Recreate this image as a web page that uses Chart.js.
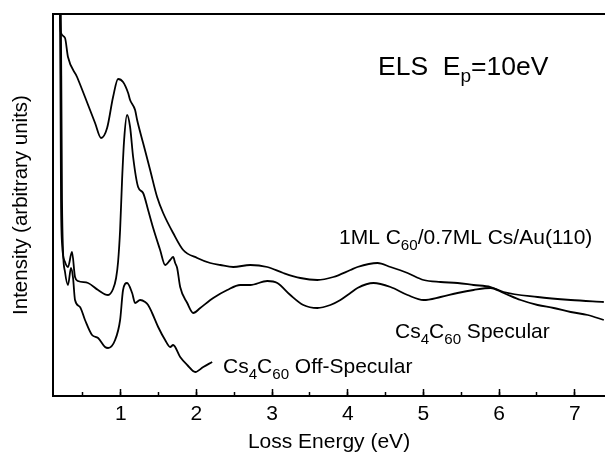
<!DOCTYPE html>
<html><head><meta charset="utf-8">
<script src="https://cdn.jsdelivr.net/npm/chart.js@4"></script>
<style>html,body{margin:0;padding:0;background:#fff}canvas{display:block}</style>
</head><body>
<canvas id="c" width="605" height="455"></canvas>
<script>
// ---- data (loss energy in eV, intensity in arbitrary units) ----
const energy1ML = [0.104,0.185,0.200,0.210,0.263,0.302,0.422,0.527,0.660,0.739,0.819,0.898,0.964,1.030,1.097,1.123,1.189,1.216,1.295,1.388,1.480,1.560,1.692,1.825,2.010,2.182,2.315,2.486,2.711,2.936,3.148,3.373,3.598,3.810,4.035,4.128,4.393,4.565,4.790,5.002,5.227,5.451,5.663,5.888,6.060,6.510,6.947,7.384];
const intensity1ML = [460,460,372,363,358,339,319,299,273,258,268,299,317,314,303,296,286,276,253,226,199,183,163,146,138,133,131,129,131,129,123,118,116,119,126,129,133,129,123,116,114,113,111,109,104,99,96,94];

const energySpec = [0.104,0.190,0.210,0.223,0.263,0.302,0.355,0.395,0.435,0.567,0.700,0.832,0.898,0.938,0.964,0.991,1.017,1.044,1.083,1.123,1.163,1.229,1.295,1.361,1.428,1.520,1.586,1.653,1.692,1.719,1.745,1.785,1.878,1.958,2.050,2.222,2.407,2.579,2.711,2.936,3.069,3.241,3.413,3.598,3.770,3.903,4.035,4.128,4.340,4.565,4.790,5.002,5.227,5.451,5.663,5.888,6.060,6.285,6.510,6.722,6.947,7.172,7.384];
const intensitySpec = [460,460,196,153,134,129,144,119,115,113,106,101,107,118,134,166,216,256,281,269,239,209,203,186,168,146,131,136,139,133,128,109,93,83,88,98,106,111,111,115,113,101,91,88,91,96,103,108,113,109,101,96,99,103,106,108,103,96,91,88,84,81,76];

const energyOff = [0.104,0.200,0.223,0.236,0.263,0.302,0.342,0.369,0.395,0.461,0.527,0.620,0.700,0.792,0.832,0.925,0.991,1.030,1.083,1.150,1.189,1.255,1.322,1.361,1.414,1.494,1.586,1.653,1.692,1.785,1.878,1.984,2.090,2.208];
const intensityOff = [460,460,196,146,124,111,128,118,96,89,76,61,58,49,48,56,76,106,113,103,93,96,94,91,83,69,56,49,51,39,31,24,29,34];

const xMin = 0.104, xMax = 7.4;
const yMin = 0, yMax = 382;

const FONT = '"Liberation Sans", Arial, Helvetica, sans-serif';

function pts(xs, ys){ return xs.map((x,i)=>({x:x, y:ys[i]})); }

const labelPlugin = {
  id: 'curveLabels',
  afterDraw(chart){
    const ctx = chart.ctx;
    ctx.save();
    ctx.fillStyle = '#000';
    ctx.textBaseline = 'alphabetic';
    function rich(segs, x, y, size){
      let cx = x;
      for (const s of segs){
        const fs = s.sub ? size*0.72 : size;
        ctx.font = fs + 'px ' + FONT;
        ctx.fillText(s.t, cx, y + (s.sub ? size*0.28 : 0));
        cx += ctx.measureText(s.t).width;
      }
    }
    rich([{t:'ELS  E'},{t:'p',sub:true},{t:'=10eV'}], 378, 75, 26.5);
    rich([{t:'1ML C'},{t:'60',sub:true},{t:'/0.7ML Cs/Au(110)'}], 339, 244, 21);
    rich([{t:'Cs'},{t:'4',sub:true},{t:'C'},{t:'60',sub:true},{t:' Specular'}], 395, 338, 21);
    rich([{t:'Cs'},{t:'4',sub:true},{t:'C'},{t:'60',sub:true},{t:' Off-Specular'}], 223, 373, 21);
    ctx.restore();
  }
};

const lineStyle = {borderColor:'#000', borderWidth:1.8, pointRadius:0, cubicInterpolationMode:'monotone', fill:false};

new Chart(document.getElementById('c'), {
  type: 'line',
  data: {
    datasets: [
      Object.assign({label:'1ML C60/0.7ML Cs/Au(110)', data: pts(energy1ML, intensity1ML)}, lineStyle),
      Object.assign({label:'Cs4C60 Specular', data: pts(energySpec, intensitySpec)}, lineStyle),
      Object.assign({label:'Cs4C60 Off-Specular', data: pts(energyOff, intensityOff)}, lineStyle)
    ]
  },
  options: {
    responsive: false,
    animation: false,
    devicePixelRatio: 1,
    layout: {padding: {top: 14, right: 0, left: 0, bottom: 0}},
    plugins: {legend: {display:false}, tooltip: {enabled:false}},
    scales: {
      x: {
        type: 'linear', position: 'bottom', weight: 1,
        min: xMin, max: xMax,
        ticks: {stepSize: 1, includeBounds: false, autoSkip: false, maxRotation: 0, color:'#000', padding: 13,
                font: {family: FONT, size: 21}},
        grid: {drawOnChartArea: false, tickLength: -7, tickWidth: 1.5, tickColor: '#000'},
        border: {color:'#000', width: 2},
        title: {display: true, text: 'Loss Energy (eV)', color:'#000', font: {family: FONT, size: 21}, padding: {top:0, bottom: 0}},
        afterFit: s => { s.height = 59; }
      },
      xMinor: {
        type: 'linear', position: 'bottom', weight: 0,
        min: xMin, max: xMax,
        ticks: {display: false, stepSize: 0.5, includeBounds: false, autoSkip: false},
        grid: {drawOnChartArea: false, tickLength: -4, tickWidth: 1.5, tickColor: '#000'},
        border: {display: false},
        afterFit: s => { s.height = 0; }
      },
      xTop: {
        type: 'linear', position: 'top',
        min: xMin, max: xMax,
        ticks: {display: false},
        grid: {display: false},
        border: {color:'#000', width: 2},
        afterFit: s => { s.height = 0; }
      },
      y: {
        type: 'linear', position: 'left',
        min: yMin, max: yMax,
        ticks: {display: false},
        grid: {display: false},
        border: {color:'#000', width: 2},
        title: {display: true, text: 'Intensity (arbitrary units)', color:'#000', font: {family: FONT, size: 20.5}, padding: {top: 9, bottom: 0}},
        afterFit: s => { s.width = 53; }
      }
    }
  },
  plugins: [labelPlugin]
});
</script>
</body></html>
